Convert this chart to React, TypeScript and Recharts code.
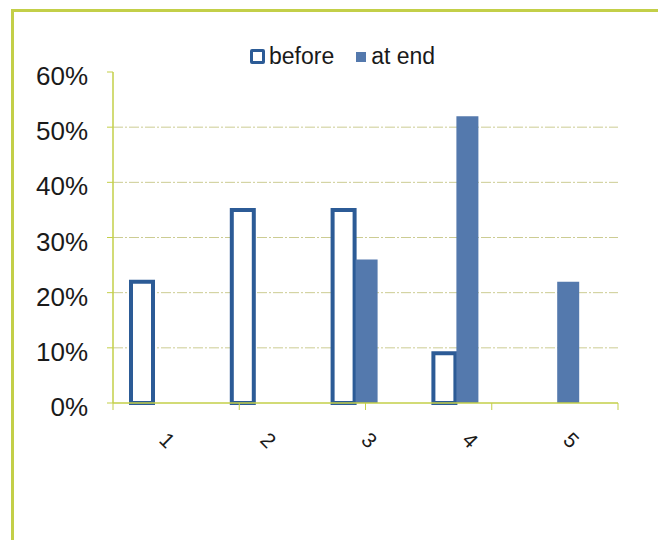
import { BarChart, Bar, XAxis, YAxis, CartesianGrid } from 'recharts'

// groups along the x axis
const categories = ['1', '2', '3', '4', '5']
const seriesNames = ['before', 'at end']
// percent of answers per group
const beforeValues = [22, 35, 35, 9, null]
const atEndValues = [null, null, 26, 52, 22]
const yTicks = [0, 10, 20, 30, 40, 50, 60]
const gridValues = [10, 20, 30, 40, 50]

const data = categories.map((name, i) => ({
  name,
  before: beforeValues[i],
  atEnd: atEndValues[i],
}))
const edgeTicks = [...categories.map((_, i) => i), categories.length]

const AXIS = '#c3cf48'
const GRID = '#cccc92'
const DARK_BLUE = '#2c5b96'
const MID_BLUE = '#5479ad'
const FONT = '"Liberation Sans", Arial, sans-serif'

function YTick({ x, y, payload }: { x?: number; y?: number; payload?: { value: number } }) {
  return (
    <text x={x} y={(y ?? 0) + 4} textAnchor="end" dominantBaseline="central" fontSize={26} fill="#1a1a1a" fontFamily={FONT}>
      {payload?.value}%
    </text>
  )
}

function XTick({ x, y, payload }: { x?: number; y?: number; payload?: { value: string } }) {
  const cx = (x ?? 0) + 4
  const cy = (y ?? 0) + 36
  return (
    <text x={cx} y={cy} transform={`rotate(45, ${cx}, ${cy})`} textAnchor="middle" dominantBaseline="central" fontSize={21} fill="#1a1a1a" fontFamily={FONT}>
      {payload?.value}
    </text>
  )
}

// tick marks only, no labels on the boundary axis
const NoLabel = () => <g />

export default function App() {
  return (
    <div style={{ position: 'relative', width: 658, height: 540, background: '#fff', overflow: 'hidden' }}>
      <style>{'body{margin:0;overflow:hidden}'}</style>
      <div style={{ position: 'absolute', left: 11, top: 9, right: 0, bottom: 0, borderLeft: `3px solid ${AXIS}`, borderTop: `3px solid ${AXIS}` }} />
      <div style={{ position: 'absolute', left: 250, top: 43, display: 'flex', alignItems: 'center', fontFamily: FONT, fontSize: 23, color: '#1a1a1a' }}>
        <span style={{ width: 9, height: 9, border: `3px solid ${DARK_BLUE}`, borderRadius: 2, background: '#fff', marginRight: 4 }} />
        <span>{seriesNames[0]}</span>
        <span style={{ width: 10, height: 10, background: MID_BLUE, marginLeft: 22, marginRight: 5 }} />
        <span>{seriesNames[1]}</span>
      </div>
      <BarChart
        width={658}
        height={540}
        data={data}
        margin={{ top: 72, right: 40, left: 53, bottom: 76 }}
        barSize={22}
        barGap={1}
        style={{ position: 'absolute', left: 0, top: 0 }}
      >
        <CartesianGrid xAxisId="bars" vertical={false} horizontalValues={gridValues} stroke={GRID} strokeDasharray="10 2 2 2" />
        <XAxis xAxisId="bars" dataKey="name" hide height={0} padding={{ left: -10, right: 11 }} />
        <XAxis
          xAxisId="edges"
          type="number"
          domain={[0, categories.length]}
          ticks={edgeTicks}
          interval={0}
          allowDataOverflow
          height={1}
          tick={<NoLabel />}
          tickSize={7}
          axisLine={{ stroke: AXIS, strokeWidth: 1.5 }}
          tickLine={{ stroke: AXIS }}
        />
        <XAxis
          xAxisId="labels"
          dataKey="name"
          height={60}
          axisLine={false}
          tickLine={false}
          tickSize={0}
          tickMargin={0}
          interval={0}
          tick={<XTick />}
        />
        <YAxis
          width={60}
          domain={[0, 60]}
          ticks={yTicks}
          interval={0}
          tickSize={6}
          tickMargin={19}
          axisLine={{ stroke: AXIS, strokeWidth: 1.5 }}
          tickLine={{ stroke: AXIS }}
          tick={<YTick />}
        />
        <Bar xAxisId="bars" dataKey="before" name={seriesNames[0]} fill="#fff" stroke={DARK_BLUE} strokeWidth={4} isAnimationActive={false} />
        <Bar xAxisId="bars" dataKey="atEnd" name={seriesNames[1]} fill={MID_BLUE} isAnimationActive={false} />
      </BarChart>
    </div>
  )
}
